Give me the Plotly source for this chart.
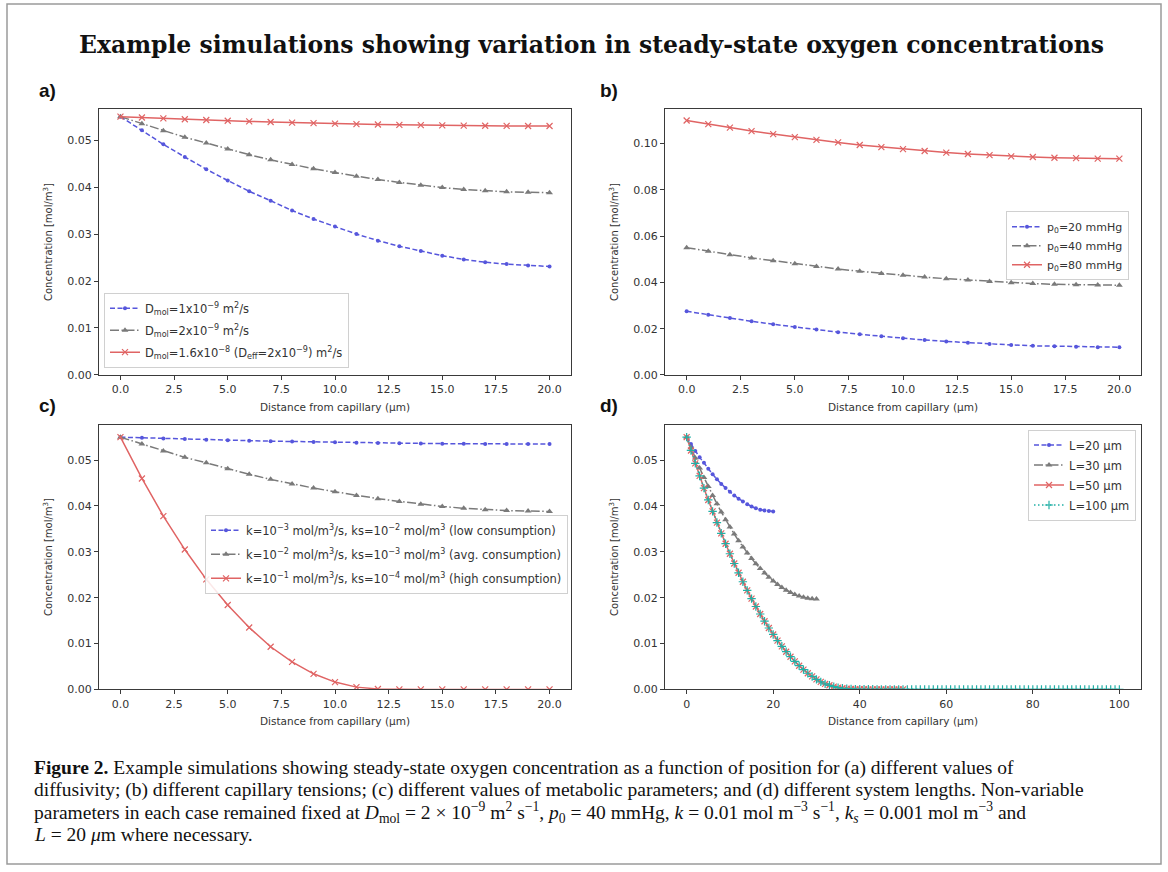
import plotly.graph_objects as go

# ---------------- data ----------------
dist20 = list(range(21))
dist30 = list(range(31))
dist50 = list(range(51))
dist100 = list(range(101))

a_d1 = [0.0550, 0.0521, 0.0491, 0.0464, 0.0438, 0.0414, 0.0391, 0.0371, 0.0350, 0.0332, 0.0316,
        0.0300, 0.0286, 0.0274, 0.0264, 0.0254, 0.0246, 0.0240, 0.0236, 0.0233, 0.0231]
a_d2 = [0.0550, 0.0535, 0.0520, 0.0506, 0.0494, 0.0481, 0.0469, 0.0458, 0.0448, 0.0439, 0.0431,
        0.0423, 0.0416, 0.0410, 0.0404, 0.0399, 0.0395, 0.0392, 0.0390, 0.0389, 0.0388]
a_d16 = [0.05500, 0.05481, 0.05462, 0.05445, 0.05428, 0.05413, 0.05398, 0.05385, 0.05372, 0.05361, 0.05350,
         0.05341, 0.05332, 0.05325, 0.05318, 0.05313, 0.05308, 0.05305, 0.05302, 0.05300, 0.05300]

b_p20 = [0.0275, 0.0260, 0.0246, 0.0232, 0.0219, 0.0207, 0.0196, 0.0185, 0.0176, 0.0167, 0.0159,
         0.0151, 0.0145, 0.0139, 0.0134, 0.0130, 0.0126, 0.0124, 0.0122, 0.0120, 0.0120]
b_p40 = [0.0550, 0.0535, 0.0520, 0.0506, 0.0494, 0.0481, 0.0469, 0.0458, 0.0448, 0.0439, 0.0431,
         0.0423, 0.0416, 0.0410, 0.0404, 0.0399, 0.0395, 0.0392, 0.0390, 0.0389, 0.0388]
b_p80 = [0.1100, 0.1084, 0.1069, 0.1054, 0.1041, 0.1028, 0.1016, 0.1005, 0.0994, 0.0985, 0.0976,
         0.0968, 0.0961, 0.0955, 0.0950, 0.0945, 0.0942, 0.0939, 0.0937, 0.0935, 0.0935]

c_low = [0.05500, 0.05485, 0.05472, 0.05458, 0.05446, 0.05434, 0.05424, 0.05413, 0.05404, 0.05395, 0.05388,
         0.05380, 0.05374, 0.05368, 0.05364, 0.05359, 0.05356, 0.05353, 0.05352, 0.05350, 0.05350]
c_avg = [0.0550, 0.0535, 0.0520, 0.0506, 0.0494, 0.0481, 0.0469, 0.0458, 0.0448, 0.0439, 0.0431,
         0.0423, 0.0416, 0.0410, 0.0404, 0.0399, 0.0395, 0.0392, 0.0390, 0.0389, 0.0388]
c_high = [0.0550, 0.0460, 0.0378, 0.0305, 0.0240, 0.0184, 0.0135, 0.0093, 0.0060, 0.0034, 0.0016,
          0.0005, 0.0001, 0.0000, 0.0000, 0.0000, 0.0000, 0.0000, 0.0000, 0.0000, 0.0000]

d_L20 = [0.0550, 0.0535, 0.0520, 0.0506, 0.0494, 0.0481, 0.0469, 0.0458, 0.0448, 0.0439, 0.0431,
         0.0423, 0.0416, 0.0410, 0.0404, 0.0399, 0.0395, 0.0392, 0.0390, 0.0389, 0.0388]
d_L30 = [0.05500, 0.05269, 0.05045, 0.04830, 0.04622, 0.04422, 0.04230, 0.04046, 0.03869, 0.03701, 0.03540,
         0.03387, 0.03242, 0.03105, 0.02976, 0.02854, 0.02740, 0.02634, 0.02536, 0.02446, 0.02364,
         0.02290, 0.02223, 0.02164, 0.02113, 0.02070, 0.02035, 0.02007, 0.01988, 0.01976, 0.01972]
d_L50 = [0.05500, 0.05210, 0.04929, 0.04655, 0.04389, 0.04131, 0.03881, 0.03638, 0.03404, 0.03177, 0.02958,
         0.02746, 0.02543, 0.02348, 0.02160, 0.01980, 0.01808, 0.01644, 0.01487, 0.01339, 0.01198,
         0.01065, 0.00940, 0.00822, 0.00713, 0.00611, 0.00517, 0.00431, 0.00353, 0.00283, 0.00220,
         0.00165, 0.00120, 0.00090, 0.00060, 0.00040, 0.00025, 0.00015, 0.00010, 0.00006, 0.00004,
         0.00003, 0.00002, 0.00002, 0.00002, 0.00001, 0.00001, 0.00001, 0.00001, 0.00001, 0.00001]
d_L100 = [0.05500, 0.05210, 0.04929, 0.04655, 0.04389, 0.04131, 0.03881, 0.03638, 0.03404, 0.03177, 0.02958,
          0.02746, 0.02543, 0.02348, 0.02160, 0.01980, 0.01808, 0.01644, 0.01487, 0.01339, 0.01198,
          0.01065, 0.00940, 0.00822, 0.00713, 0.00611, 0.00517, 0.00431, 0.00353, 0.00283, 0.00220,
          0.00165, 0.00120, 0.00090, 0.00060, 0.00040, 0.00025, 0.00015, 0.00010, 0.00006, 0.00004,
          0.00003, 0.00002, 0.00002, 0.00001, 0.00001, 0.00001, 0.00001, 0.00000, 0.00000, 0.00000,
          0.0, 0.0, 0.0, 0.0, 0.0, 0.0, 0.0, 0.0, 0.0, 0.0,
          0.0, 0.0, 0.0, 0.0, 0.0, 0.0, 0.0, 0.0, 0.0, 0.0,
          0.0, 0.0, 0.0, 0.0, 0.0, 0.0, 0.0, 0.0, 0.0, 0.0,
          0.0, 0.0, 0.0, 0.0, 0.0, 0.0, 0.0, 0.0, 0.0, 0.0,
          0.0, 0.0, 0.0, 0.0, 0.0, 0.0, 0.0, 0.0, 0.0, 0.0]

names_a = ["D<sub>mol</sub>=1x10<sup>−9</sup> m<sup>2</sup>/s",
           "D<sub>mol</sub>=2x10<sup>−9</sup> m<sup>2</sup>/s",
           "D<sub>mol</sub>=1.6x10<sup>−8</sup> (D<sub>eff</sub>=2x10<sup>−9</sup>) m<sup>2</sup>/s"]
names_b = ["p<sub>0</sub>=20 mmHg", "p<sub>0</sub>=40 mmHg", "p<sub>0</sub>=80 mmHg"]
names_c = ["k=10<sup>−3</sup> mol/m<sup>3</sup>/s, ks=10<sup>−2</sup> mol/m<sup>3</sup> (low consumption)",
           "k=10<sup>−2</sup> mol/m<sup>3</sup>/s, ks=10<sup>−3</sup> mol/m<sup>3</sup> (avg. consumption)",
           "k=10<sup>−1</sup> mol/m<sup>3</sup>/s, ks=10<sup>−4</sup> mol/m<sup>3</sup> (high consumption)"]
names_d = ["L=20 µm", "L=30 µm", "L=50 µm", "L=100 µm"]

title_text = "Example simulations showing variation in steady-state oxygen concentrations"
xlabel = "Distance from capillary (µm)"
ylabel = "Concentration [mol/m<sup>3</sup>]"
caption_lines = [
    "<b>Figure 2.</b> Example simulations showing steady-state oxygen concentration as a function of position for (a) different values of",
    "diffusivity; (b) different capillary tensions; (c) different values of metabolic parameters; and (d) different system lengths. Non-variable",
    "parameters in each case remained fixed at <i>D</i><sub>mol</sub> = 2 × 10<sup>−9</sup> m<sup>2</sup> s<sup>−1</sup>, "
    "<i>p</i><sub>0</sub> = 40 mmHg, <i>k</i> = 0.01 mol m<sup>−3</sup> s<sup>−1</sup>, <i>k</i><sub><i>s</i></sub> = 0.001 mol m<sup>−3</sup> and",
    "<i>L</i> = 20 <i>μ</i>m where necessary.",
]

# ---------------- styles ----------------
BLUE = "#5656dc"
GREY = "#7a7a7a"
RED = "#e06464"
TEAL = "#22b0a6"
TXT = "#333333"
FONT = "DejaVu Sans"

sty = {
    "blue": dict(line=dict(color=BLUE, width=1.5, dash="5px,2.5px"),
                 marker=dict(symbol="circle", size=4, color=BLUE)),
    "grey": dict(line=dict(color=GREY, width=1.5, dash="9px,2.5px,1.5px,2.5px"),
                 marker=dict(symbol="triangle-up", size=6, color=GREY)),
    "red": dict(line=dict(color=RED, width=1.5),
                marker=dict(symbol="x-thin-open", size=6, color=RED, line=dict(color=RED, width=1.2))),
    "teal": dict(line=dict(color=TEAL, width=1.5, dash="1.5px,2.5px"),
                 marker=dict(symbol="cross-thin-open", size=6, color=TEAL, line=dict(color=TEAL, width=1.2))),
}

W, H = 1168, 872
def px_x(a, b):
    return [a / W, b / W]
def px_y(top, bottom):
    return [1 - bottom / H, 1 - top / H]

fig = go.Figure()

def add(x, y, name, style, ax, legend):
    fig.add_trace(go.Scatter(x=x, y=y, name=name, mode="lines+markers", legendgroup=name,
                             xaxis="x" + ax, yaxis="y" + ax, legend=legend, **sty[style]))

add(dist20, a_d1, names_a[0], "blue", "", "legend")
add(dist20, a_d2, names_a[1], "grey", "", "legend")
add(dist20, a_d16, names_a[2], "red", "", "legend")

add(dist20, b_p20, names_b[0], "blue", "2", "legend2")
add(dist20, b_p40, names_b[1], "grey", "2", "legend2")
add(dist20, b_p80, names_b[2], "red", "2", "legend2")

add(dist20, c_low, names_c[0], "blue", "3", "legend3")
add(dist20, c_avg, names_c[1], "grey", "3", "legend3")
add(dist20, c_high, names_c[2], "red", "3", "legend3")

add(dist20, d_L20, names_d[0], "blue", "4", "legend4")
add(dist30, d_L30, names_d[1], "grey", "4", "legend4")
add(dist50, d_L50, names_d[2], "red", "4", "legend4")
add(dist100, d_L100, names_d[3], "teal", "4", "legend4")

axis_common = dict(showline=True, linecolor="#3a3a3a", linewidth=1, mirror=True,
                   ticks="outside", ticklen=4, tickcolor="#3a3a3a", showgrid=False, zeroline=False,
                   tickfont=dict(family=FONT, size=11, color=TXT))

def xax(dom, rng, dtick, fmt, anchor):
    return dict(axis_common, domain=dom, range=rng, dtick=dtick, tick0=0, tickformat=fmt, anchor=anchor,
                title=dict(text=xlabel, font=dict(family=FONT, size=10.5, color=TXT), standoff=8))

def yax(dom, rng, dtick, anchor):
    return dict(axis_common, domain=dom, range=rng, dtick=dtick, tick0=0, tickformat=".2f", anchor=anchor,
                title=dict(text=ylabel, font=dict(family=FONT, size=10, color=TXT), standoff=12))

xa, xb = px_x(99, 571), px_x(665, 1141)
ytop, ybot = px_y(110, 378), px_y(428, 695)

legend_common = dict(bgcolor="rgba(255,255,255,0.85)", bordercolor="#d0d0d0", borderwidth=1,
                     font=dict(family=FONT, size=11.5, color=TXT), xref="paper", yref="paper")

fig.update_layout(
    width=W, height=H, margin=dict(l=0, r=0, t=0, b=0),
    paper_bgcolor="white", plot_bgcolor="white",
    xaxis=xax(xa, [-1, 21], 2.5, ".1f", "y"),
    yaxis=yax(ytop, [0, 0.0566], 0.01, "x"),
    xaxis2=xax(xb, [-1, 21], 2.5, ".1f", "y2"),
    yaxis2=yax(ytop, [0, 0.1149], 0.02, "x2"),
    xaxis3=xax(xa, [-1, 21], 2.5, ".1f", "y3"),
    yaxis3=yax(ybot, [0, 0.05775], 0.01, "x3"),
    xaxis4=xax(xb, [-5, 105], 20, "d", "y4"),
    yaxis4=yax(ybot, [0, 0.05775], 0.01, "x4"),
    legend=dict(legend_common, x=104 / W, y=1 - 295 / H, xanchor="left", yanchor="top", tracegroupgap=3),
    legend2=dict(legend_common, x=1006 / W, y=1 - 213 / H, xanchor="left", yanchor="top", tracegroupgap=0,
                 font=dict(family=FONT, size=11, color=TXT)),
    legend3=dict(legend_common, x=205 / W, y=1 - 519 / H, xanchor="left", yanchor="top", tracegroupgap=5),
    legend4=dict(legend_common, x=1136 / W, y=1 - 433 / H, xanchor="right", yanchor="top", tracegroupgap=1),
    showlegend=True,
)

# figure frame
fig.add_shape(type="rect", xref="paper", yref="paper", x0=7 / W, x1=1161 / W, y0=1 - 871 / H, y1=1 - 4 / H,
              line=dict(color="#9a9a9a", width=1.5), fillcolor="rgba(0,0,0,0)", layer="below")

# title
fig.add_annotation(text="<b>" + title_text + "</b>", xref="paper", yref="paper", x=591 / W, y=1 - 45 / H,
                   xanchor="center", yanchor="middle", showarrow=False,
                   font=dict(family="DejaVu Serif", size=23.5, color="#111111"))

# panel labels
for lab, x0, y0 in [("a)", 37, 91), ("b)", 598, 91), ("c)", 37, 409), ("d)", 598, 409)]:
    fig.add_annotation(text="<b>" + lab + "</b>", xref="paper", yref="paper", x=x0 / W, y=1 - y0 / H,
                       xanchor="left", yanchor="middle", showarrow=False,
                       font=dict(family="Liberation Sans Narrow, Liberation Sans", size=19, color="#111111"))

# caption, one annotation per line
for i, line in enumerate(caption_lines):
    fig.add_annotation(text=line, xref="paper", yref="paper", x=32 / W, y=1 - (774 + 22.5 * i) / H,
                       xanchor="left", yanchor="middle", align="left", showarrow=False,
                       font=dict(family="Liberation Serif", size=19.5, color="#111111"))

fig.write_html("out.html", config={"displayModeBar": False},
               post_script="document.body.style.margin='0px';")
